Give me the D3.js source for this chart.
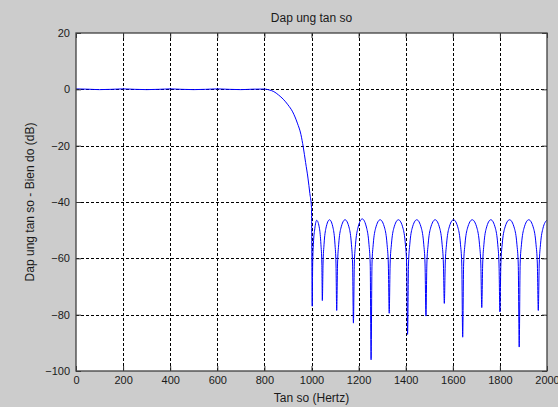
<!DOCTYPE html>
<html><head><meta charset="utf-8">
<script src="https://cdn.jsdelivr.net/npm/d3@7"></script>
<style>html,body{margin:0;padding:0;background:#cccccc;overflow:hidden}</style>
</head><body>
<svg id="chart" width="558" height="407"></svg>
<script>
// ---- Data ----
const titleText = "Dap ung tan so";
const xLabelText = "Tan so (Hertz)";
const yLabelText = "Dap ung tan so - Bien do (dB)";
const xTicks = [0, 200, 400, 600, 800, 1000, 1200, 1400, 1600, 1800, 2000];
const yTicks = [20, 0, -20, -40, -60, -80, -100];

// passband
const passbandHz = [0, 50, 100, 150, 200, 250, 300, 350, 400, 450, 500, 550, 600, 650, 700, 750, 800];
const passbandDb = [0.15, 0.05, -0.1, 0.0, 0.15, 0.0, -0.1, 0.0, 0.15, 0.0, -0.1, 0.0, 0.15, 0.0, -0.1, 0.05, 0.1];
// transition band
const transitionHz = [820, 840, 860, 880, 900, 920, 940, 955, 965, 975, 985, 993, 1000];
const transitionDb = [-0.2, -0.8, -2, -3.5, -5.5, -8, -12, -16, -20.5, -26, -31.5, -37, -42];
// stopband (null / lobe samples)
const stopbandHz = [
  1003, 1005, 1008, 1014, 1022, 1034, 1040, 1044,
  1046, 1049, 1053.3, 1061.3, 1076.5, 1091.8, 1099.7, 1104,
  1107, 1110.6, 1115.5, 1124.8, 1142.5, 1160.3, 1169.5, 1174.5,
  1178, 1181.8, 1187, 1196.8, 1215.5, 1234.3, 1244, 1249.3,
  1253, 1256.9, 1262.2, 1272.3, 1291.5, 1310.8, 1320.8, 1326.2,
  1330, 1333.9, 1339.4, 1349.5, 1369, 1388.5, 1398.6, 1404.1,
  1408, 1411.9, 1417.4, 1427.5, 1447, 1466.5, 1476.6, 1482.1,
  1486, 1489.9, 1495.4, 1505.5, 1525, 1544.5, 1554.6, 1560.1,
  1564, 1567.9, 1573.4, 1583.5, 1603, 1622.5, 1632.6, 1638.1,
  1642, 1646, 1651.7, 1662.3, 1682.5, 1702.8, 1713.3, 1719,
  1723, 1726.9, 1732.2, 1742.3, 1761.5, 1780.8, 1790.8, 1796.2,
  1800, 1804.1, 1809.8, 1820.5, 1841, 1861.5, 1872.2, 1877.9,
  1882, 1886, 1891.7, 1902.3, 1922.5, 1942.8, 1953.3, 1959,
  1963, 1967, 1972.5, 1983, 2000
];
const stopbandDb = [
  -77, -62, -55, -49.5, -46.5, -49.5, -55, -62,
  -75, -62, -55, -49.3, -46.3, -49.3, -55, -62,
  -78.5, -62, -55, -49.3, -46.3, -49.3, -55, -62,
  -83, -62, -55, -49.3, -46.0, -49.3, -55, -62,
  -96, -62, -55, -49.3, -46.3, -49.3, -55, -62,
  -79.5, -62, -55, -49.3, -46.3, -49.3, -55, -62,
  -87, -62, -55, -49.3, -46.3, -49.3, -55, -62,
  -80.5, -62, -55, -49.3, -46.3, -49.3, -55, -62,
  -76, -62, -55, -49.3, -46.3, -49.3, -55, -62,
  -88, -62, -55, -49.3, -46.3, -49.3, -55, -62,
  -77.5, -62, -55, -49.3, -46.3, -49.3, -55, -62,
  -79, -62, -55, -49.3, -46.3, -49.3, -55, -62,
  -91.5, -62, -55, -49.3, -46.3, -49.3, -55, -62,
  -78.5, -62, -55, -49.3, -46.4
];

// ---- Build points ----
const pts = [];
passbandHz.forEach((f, i) => pts.push([f, passbandDb[i]]));
transitionHz.forEach((f, i) => pts.push([f, transitionDb[i]]));
stopbandHz.forEach((f, i) => pts.push([f, stopbandDb[i]]));

// ---- Layout ----
const svg = d3.select("#chart");
const L = 76, R = 547, T = 33, B = 371;
const x = d3.scaleLinear().domain([0, 2000]).range([L, R]);
const y = d3.scaleLinear().domain([-100, 20]).range([B, T]);
const font = "'Liberation Sans', Arial, sans-serif";

svg.append("rect").attr("x", 0).attr("y", 0).attr("width", 558).attr("height", 407).attr("fill", "#cccccc");
svg.append("rect").attr("x", L).attr("y", T).attr("width", R - L).attr("height", B - T).attr("fill", "#ffffff");

// grid
const grid = svg.append("g");
xTicks.slice(1, -1).forEach(v => {
  grid.append("line").attr("x1", Math.round(x(v)) + 0.5).attr("x2", Math.round(x(v)) + 0.5)
    .attr("y1", T).attr("y2", B).attr("stroke", "#000").attr("stroke-width", 1).attr("stroke-dasharray", "3,2");
});
yTicks.slice(1, -1).forEach(v => {
  grid.append("line").attr("y1", Math.round(y(v)) + 0.5).attr("y2", Math.round(y(v)) + 0.5)
    .attr("x1", L).attr("x2", R).attr("stroke", "#000").attr("stroke-width", 1).attr("stroke-dasharray", "3,2");
});

// data line
svg.append("clipPath").attr("id", "clip").append("rect").attr("x", L).attr("y", T).attr("width", R - L).attr("height", B - T);
const line = d3.line().x(d => x(d[0])).y(d => y(d[1])).curve(d3.curveMonotoneX);
svg.append("path").datum(pts).attr("d", line).attr("fill", "none")
  .attr("stroke", "#0000ff").attr("stroke-width", 1).attr("clip-path", "url(#clip)");

// axes with inward ticks
const xAxisB = d3.axisBottom(x).tickValues(xTicks).tickSizeInner(-5).tickSizeOuter(0).tickPadding(5).tickFormat(d3.format("d"));
const gxb = svg.append("g").attr("transform", `translate(0,${B})`).call(xAxisB);
const xAxisT = d3.axisTop(x).tickValues(xTicks).tickSizeInner(-5).tickSizeOuter(0).tickFormat("");
const gxt = svg.append("g").attr("transform", `translate(0,${T})`).call(xAxisT);
const yAxisL = d3.axisLeft(y).tickValues(yTicks).tickSizeInner(-5).tickSizeOuter(0).tickPadding(6).tickFormat(d3.format("d"));
const gyl = svg.append("g").attr("transform", `translate(${L},0)`).call(yAxisL);
const yAxisR = d3.axisRight(y).tickValues(yTicks).tickSizeInner(-5).tickSizeOuter(0).tickFormat("");
const gyr = svg.append("g").attr("transform", `translate(${R},0)`).call(yAxisR);
[gxb, gxt, gyl, gyr].forEach(g => {
  g.select(".domain").remove();
  g.selectAll(".tick line").attr("stroke", "#333");
  g.selectAll(".tick text").attr("fill", "#1a1a1a").style("font-family", font).style("font-size", "11px");
});

// box
svg.append("rect").attr("x", L).attr("y", T).attr("width", R - L).attr("height", B - T)
  .attr("fill", "none").attr("stroke", "#404040").attr("stroke-width", 1.3);

// titles
svg.append("text").attr("x", (L + R) / 2).attr("y", 22).attr("text-anchor", "middle")
  .style("font-family", font).style("font-size", "12px").attr("fill", "#1a1a1a").text(titleText);
svg.append("text").attr("x", (L + R) / 2).attr("y", 402).attr("text-anchor", "middle")
  .style("font-family", font).style("font-size", "12px").attr("fill", "#1a1a1a").text(xLabelText);
svg.append("text").attr("transform", `translate(34,${(T + B) / 2}) rotate(-90)`).attr("text-anchor", "middle")
  .style("font-family", font).style("font-size", "12px").attr("fill", "#1a1a1a").text(yLabelText);
</script>
</body></html>
